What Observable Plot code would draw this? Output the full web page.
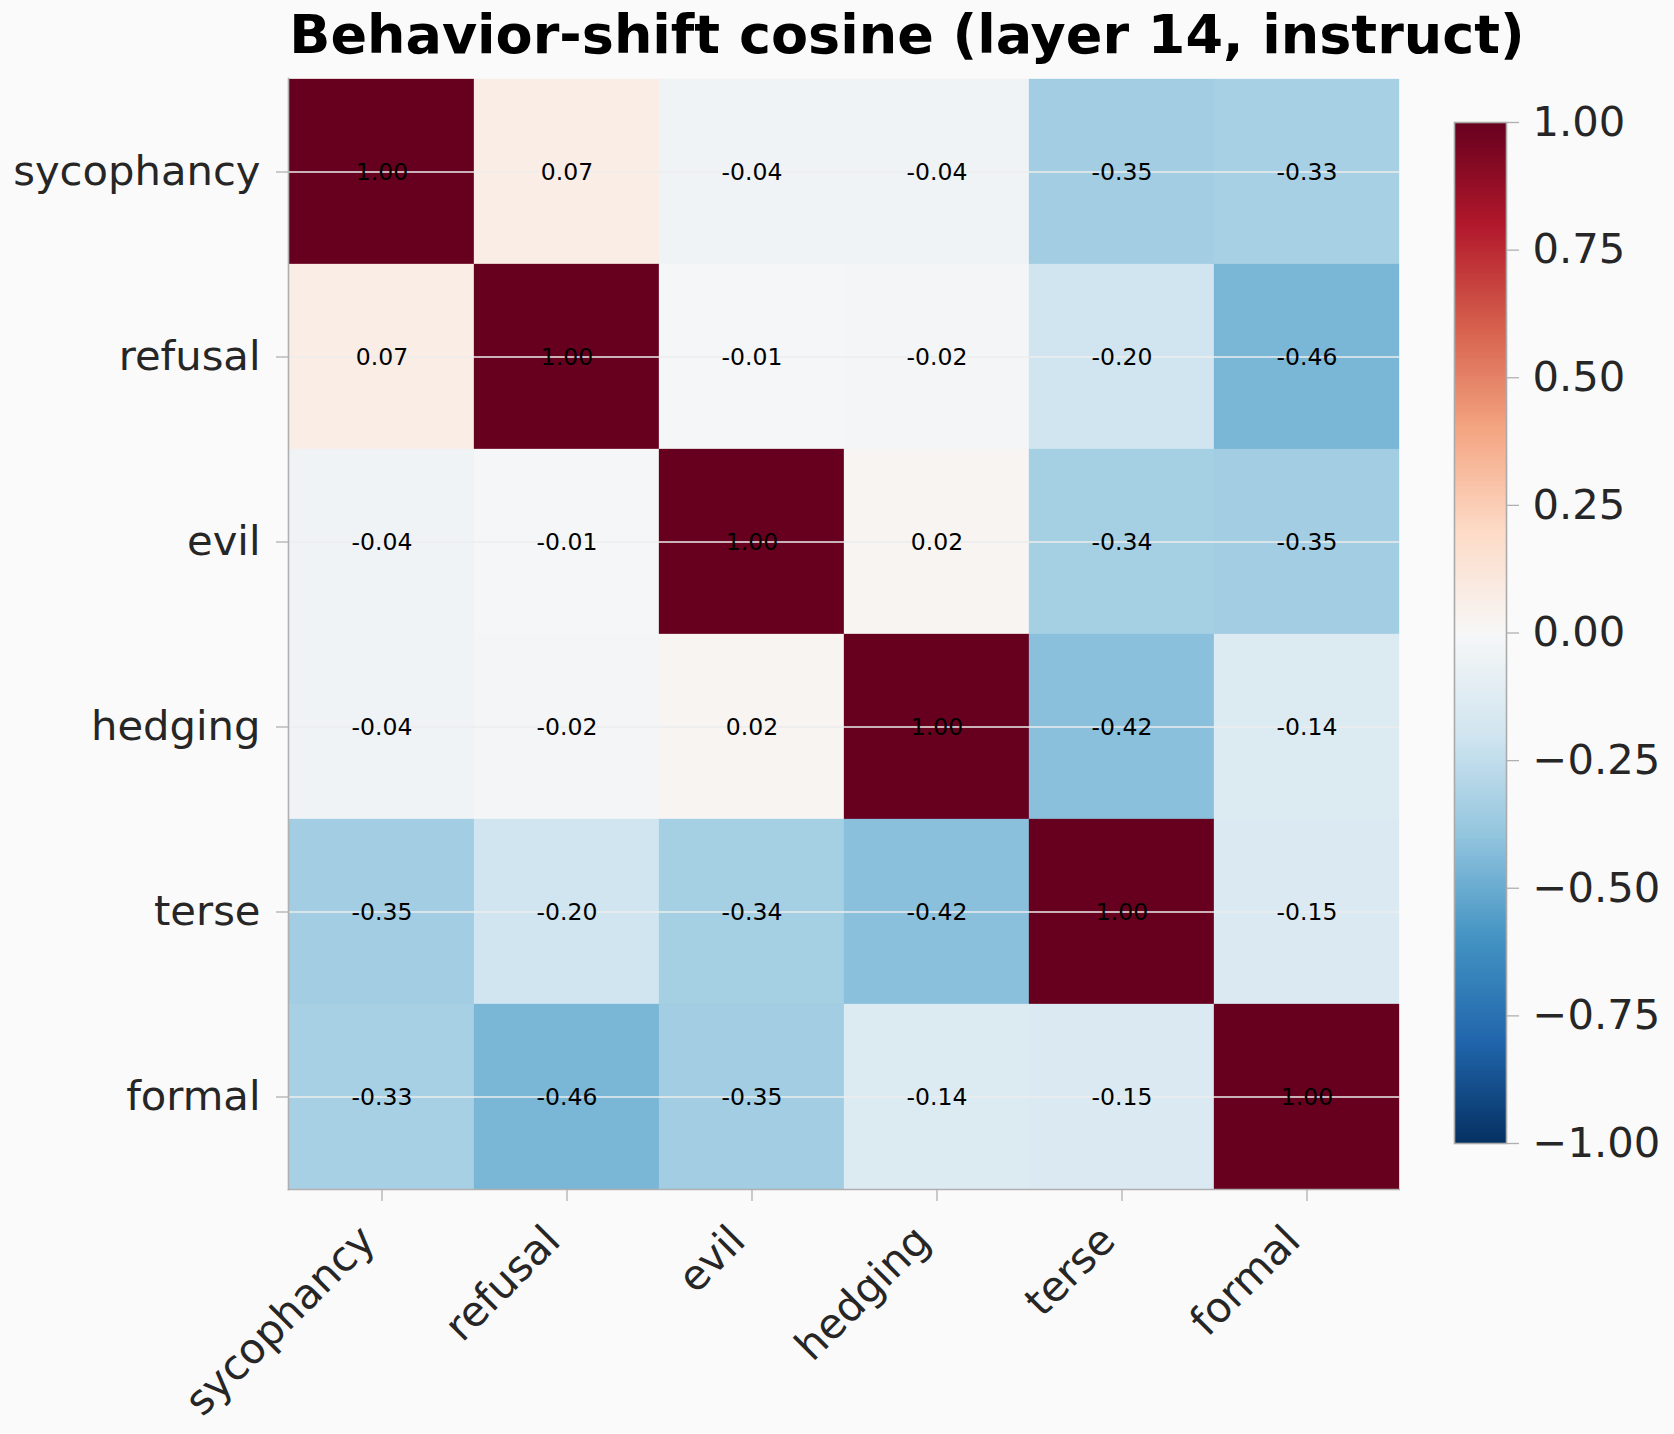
<!DOCTYPE html>
<html>
<head>
<meta charset="utf-8">
<script src="https://cdn.jsdelivr.net/npm/d3@7"></script>
<script src="https://cdn.jsdelivr.net/npm/@observablehq/plot@0.6"></script>
<style>
  html, body { margin: 0; padding: 0; background: #fafafa; }
  #fig { position: relative; width: 1674px; height: 1434px; background: #fafafa; overflow: hidden; font-family: "DejaVu Sans", sans-serif; }
  #title { position: absolute; left: 907px; top: 7.6px; transform: translateX(-50%); white-space: nowrap;
           font-family: "DejaVu Sans", sans-serif; font-weight: bold; font-size: 54px; line-height: 54px; color: #000; }
  #heat { position: absolute; left: 0; top: 0; }
  #cbar { position: absolute; left: 1400px; top: 0; }
</style>
</head>
<body>
<div id="fig">
  <div id="heat"></div>
  <div id="cbar"></div>
  <div id="title">Behavior-shift cosine (layer 14, instruct)</div>
</div>
<script>
const categories = ["sycophancy", "refusal", "evil", "hedging", "terse", "formal"];
const rowSycophancy = [1.00, 0.07, -0.04, -0.04, -0.35, -0.33];
const rowRefusal    = [0.07, 1.00, -0.01, -0.02, -0.20, -0.46];
const rowEvil       = [-0.04, -0.01, 1.00, 0.02, -0.34, -0.35];
const rowHedging    = [-0.04, -0.02, 0.02, 1.00, -0.42, -0.14];
const rowTerse      = [-0.35, -0.20, -0.34, -0.42, 1.00, -0.15];
const rowFormal     = [-0.33, -0.46, -0.35, -0.14, -0.15, 1.00];
const colorbarTicks = [-1, -0.75, -0.5, -0.25, 0, 0.25, 0.5, 0.75, 1];
const rdbuStops  = [-1, -0.8, -0.6, -0.4, -0.2, 0, 0.2, 0.4, 0.6, 0.8, 1];
const rdbuColors = ["#053061", "#2166ac", "#4393c3", "#92c5de", "#d1e5f0", "#f7f7f7",
                    "#fddbc7", "#f4a582", "#d6604d", "#b2182b", "#67001f"];

const rows = [rowSycophancy, rowRefusal, rowEvil, rowHedging, rowTerse, rowFormal];
const cells = [];
rows.forEach((r, i) => r.forEach((v, j) => cells.push({row: categories[i], col: categories[j], value: v})));

const colorScale = {type: "linear", domain: rdbuStops, range: rdbuColors, interpolate: "rgb", clamp: true};
const axisGray = "#b0b0b0";
const textDark = "#262626";
const font = "DejaVu Sans";

let spines;
try {
  spines = [Plot.frame({anchor: "left", stroke: axisGray, strokeWidth: 1.6}),
            Plot.frame({anchor: "bottom", stroke: axisGray, strokeWidth: 1.6})];
} catch (e) { spines = []; }

const heat = Plot.plot({
  width: 1400, height: 1434,
  marginLeft: 288, marginRight: 1, marginTop: 78, marginBottom: 245,
  style: {fontFamily: font, background: "transparent"},
  x: {domain: categories, padding: 0, axis: null},
  y: {domain: categories, padding: 0, axis: null},
  color: colorScale,
  marks: [
    Plot.cell(cells, {x: "col", y: "row", fill: "value", inset: 0, stroke: "value", strokeWidth: 0.3}),
    Plot.gridY(categories, {stroke: "#ececec", strokeOpacity: 1, strokeWidth: 1.7}),
    Plot.text(cells, {x: "col", y: "row", text: d => d.value.toFixed(2), fontSize: 23.5, fill: "black", lineAnchor: "middle"}),
    ...spines,
    Plot.axisY({anchor: "left", tickSize: 12, tickPadding: 16, fontSize: 41.7, stroke: axisGray, strokeWidth: 1.3, fill: textDark, label: null}),
    Plot.axisX({anchor: "bottom", tickSize: 12, tickFormat: () => "", stroke: axisGray, strokeWidth: 1.3, label: null}),
    Plot.text(categories, {x: d => d, frameAnchor: "bottom", dx: -14, dy: 44, rotate: -45, textAnchor: "end", lineAnchor: "middle", fontSize: 41.7, fill: textDark})
  ]
});
document.getElementById("heat").appendChild(heat);

const cbar = Plot.plot({
  width: 274, height: 1434,
  marginLeft: 54, marginRight: 168, marginTop: 122, marginBottom: 291,
  style: {fontFamily: font, background: "transparent"},
  x: {domain: [0, 1], axis: null},
  y: {domain: [-1, 1], axis: null},
  color: colorScale,
  marks: [
    Plot.raster({fill: (x, y) => y, x1: 0, x2: 1, y1: -1, y2: 1, width: 1, height: 512, imageRendering: "auto"}),
    Plot.frame({stroke: "#aaaaaa", strokeWidth: 1.6}),
    Plot.axisY({anchor: "right", ticks: colorbarTicks, tickFormat: d3.format(".2f"), tickSize: 12, tickPadding: 14, fontSize: 41.7, stroke: axisGray, strokeWidth: 1.3, fill: textDark, label: null})
  ]
});
document.getElementById("cbar").appendChild(cbar);
</script>
</body>
</html>
